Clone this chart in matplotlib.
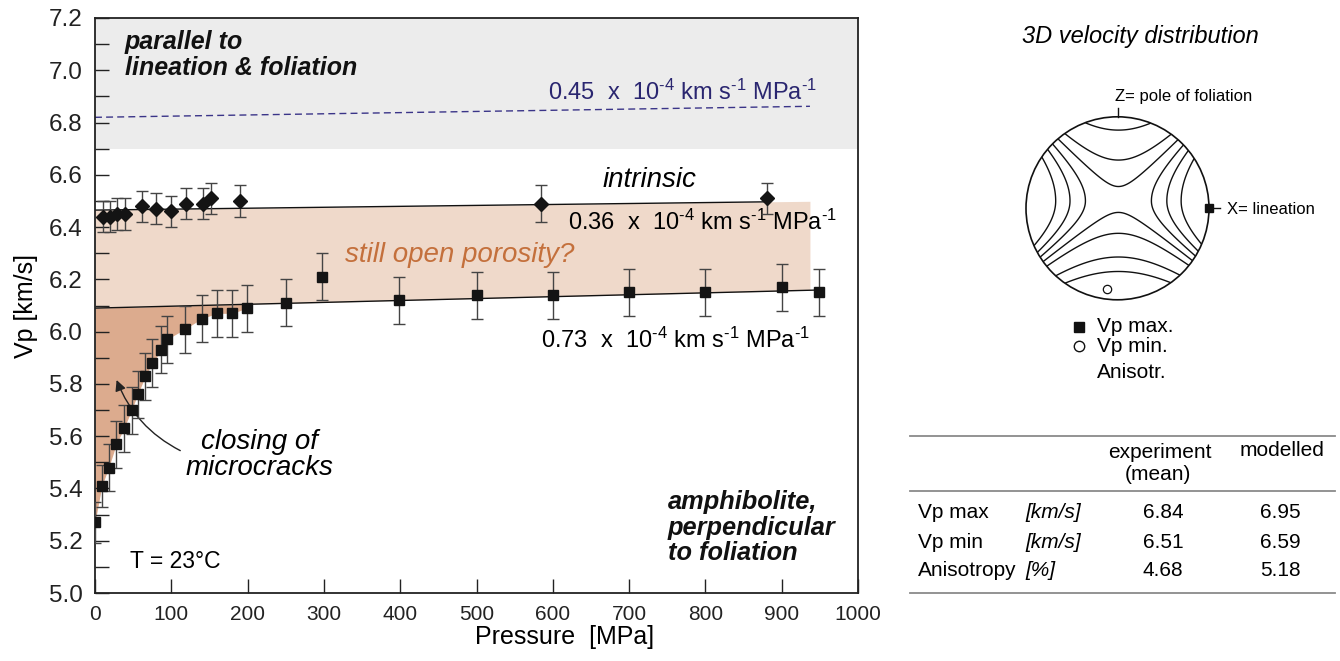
import matplotlib
matplotlib.use("Agg")
import matplotlib.pyplot as plt
import numpy as np
from matplotlib.lines import Line2D
from matplotlib.patches import Circle

plt.rcParams['font.family'] = ['Liberation Sans', 'DejaVu Sans']
plt.rcParams['mathtext.fontset'] = 'custom'
plt.rcParams['mathtext.rm'] = 'Liberation Sans'
plt.rcParams['mathtext.it'] = 'Liberation Sans:italic'

# amphibolite, perpendicular to foliation (squares)
P_perp = [0, 9, 18, 28, 38, 48, 56, 66, 75, 87, 94, 118, 140, 160, 180, 199,
          250, 298, 399, 501, 600, 700, 800, 900, 949]
V_perp = [5.27, 5.41, 5.48, 5.57, 5.63, 5.70, 5.76, 5.83, 5.88, 5.93, 5.97, 6.01,
          6.05, 6.07, 6.07, 6.09, 6.11, 6.21, 6.12, 6.14, 6.14, 6.15, 6.15, 6.17, 6.15]
E_perp = [0.08, 0.08] + [0.09] * 23

# intrinsic (diamonds)
P_intr = [10, 20, 29, 39, 61, 80, 100, 119, 141, 152, 190, 585, 881]
V_intr = [6.44, 6.44, 6.45, 6.45, 6.48, 6.47, 6.46, 6.49, 6.49, 6.51, 6.50, 6.49, 6.51]
E_intr = [0.06] * 11 + [0.07, 0.06]

# linear pressure derivatives (km/s per MPa) and intercepts (km/s)
SLOPE_PAR, V0_PAR = 0.45e-4, 6.82
SLOPE_INTR, V0_INTR = 0.36e-4, 6.465
SLOPE_PERP, V0_PERP = 0.73e-4, 6.09

# stereonet contour levels
LEVELS = [-0.95, -0.6, -0.2, -0.025, 0.13, 0.28, 0.47]

# table
ROW_NAMES = ["Vp max", "Vp min", "Anisotropy"]
ROW_UNITS = ["[km/s]", "[km/s]", "[%]"]
EXPERIMENT = ["6.84", "6.51", "4.68"]
MODELLED = ["6.95", "6.59", "5.18"]

W, H = 1340, 661


def fx(x):
    return x / W


def fy(y):
    return 1 - y / H


def deriv_label(coef):
    return coef + r'  x  10$^{\text{-4}}$ km s$^{\text{-1}}$ MPa$^{\text{-1}}$'


fig = plt.figure(figsize=(W / 100, H / 100), dpi=100)
ax = fig.add_axes([fx(95), fy(593), (858 - 95) / W, (593 - 18) / H])

ax.set_xlim(0, 1000)
ax.set_ylim(5.0, 7.2)

ax.axhspan(6.70, 7.2, color='#ececec', lw=0, zorder=0)

# dashed line, parallel to lineation & foliation
xp = np.array([0, 937])
ax.plot(xp, V0_PAR + SLOPE_PAR * xp, ls=(0, (5, 3)), color='#3a3488', lw=1, zorder=2)

# open porosity band between intrinsic and perpendicular lines
xb = np.array([0, 937])
ax.fill_between(xb, V0_PERP + SLOPE_PERP * xb, V0_INTR + SLOPE_INTR * xb,
                color='#efd9ca', lw=0, zorder=1)

# microcrack closure
P_low = np.array(P_perp[:16])
V_low = np.array(V_perp[:16])
ax.fill_between(P_low, V_low, V0_PERP + SLOPE_PERP * P_low, color='#dcab8e', lw=0, zorder=1)

xi = np.array([0, 880])
ax.plot(xi, V0_INTR + SLOPE_INTR * xi, color='#111111', lw=1, zorder=2)
xl = np.array([0, 950])
ax.plot(xl, V0_PERP + SLOPE_PERP * xl, color='#111111', lw=1, zorder=2)

ax.errorbar(P_perp, V_perp, yerr=E_perp, fmt='s', ms=7.5, mfc='#141414', mec='#141414',
            ecolor='#444444', elinewidth=1, capsize=4.5, capthick=1, zorder=4)
ax.errorbar(P_intr, V_intr, yerr=E_intr, fmt='D', ms=7.3, mfc='#141414', mec='#141414',
            ecolor='#444444', elinewidth=1, capsize=4.5, capthick=1, zorder=4)

ax.set_xticks(range(0, 1001, 100))
ax.set_yticks(np.arange(5.0, 7.21, 0.2))
ax.set_yticks(np.arange(5.1, 7.2, 0.2), minor=True)
ax.yaxis.set_major_formatter(plt.FormatStrFormatter('%.1f'))
ax.tick_params(axis='both', which='both', direction='in', length=10, width=1,
               top=False, right=False, colors='#222222')
ax.tick_params(axis='y', labelsize=17.5, pad=9)
ax.tick_params(axis='x', labelsize=15, pad=9)
for lab in ax.get_xticklabels():
    lab.set_family(['Liberation Sans Narrow', 'Liberation Sans'])
for sp in ax.spines.values():
    sp.set_linewidth(1.3)
    sp.set_color('#222222')

ax.set_xlabel('Pressure  [MPa]', fontsize=18, family=['Liberation Sans Narrow', 'Liberation Sans'])
ax.xaxis.set_label_coords(0.616, -0.055)
ax.set_ylabel('Vp [km/s]', fontsize=18)
ax.yaxis.set_label_coords(-0.075, 0.5)

ax.text(39, 7.06, 'parallel to\nlineation & foliation', fontsize=18, fontweight='bold',
        style='italic', va='center', linespacing=1.1, color='#111111')
ax.text(594, 6.917, deriv_label('0.45'), fontsize=17, color='#2a2670', va='center')
ax.text(727, 6.58, 'intrinsic', fontsize=20, style='italic', ha='center', va='center')
ax.text(620, 6.42, deriv_label('0.36'), fontsize=17, va='center')
ax.text(328, 6.293, 'still open porosity?', fontsize=20, style='italic', color='#c4703c',
        va='center')
ax.text(584, 5.968, deriv_label('0.73'), fontsize=17, va='center')
ax.text(216, 5.528, 'closing of\nmicrocracks', fontsize=20, style='italic', ha='center',
        va='center', linespacing=1.0)
ax.annotate('', xy=(27, 5.825), xytext=(115, 5.54),
            arrowprops=dict(arrowstyle='-|>', connectionstyle='arc3,rad=-0.2',
                            color='#222222', lw=1, mutation_scale=16))
ax.text(46, 5.119, 'T = 23°C', fontsize=16.5, va='center')
ax.text(751, 5.249, 'amphibolite,\nperpendicular\nto foliation', fontsize=18.3,
        fontweight='bold', style='italic', va='center', linespacing=1.08, color='#111111')

# stereonet of the 3D velocity distribution
R = 91.5
cx, cy = 1117.5, 208.3
half = 130
ax2 = fig.add_axes([fx(cx - half), fy(cy + half), 2 * half / W, 2 * half / H])
lim = half / R
ax2.set_xlim(-lim, lim)
ax2.set_ylim(-lim, lim)
ax2.axis('off')

u, v = np.meshgrid(np.linspace(-1, 1, 600), np.linspace(-1, 1, 600))
du = u - 0.01
dv = v - 0.08
field = du ** 2 - np.where(dv > 0, 1.0, 1.6) * dv ** 2
field[u ** 2 + v ** 2 > 1] = np.nan
ax2.contour(u, v, field, levels=LEVELS, colors='#111111', linewidths=1,
            linestyles='solid')
ax2.add_patch(Circle((0, 0), 1, fill=False, ec='#111111', lw=1.2))
ax2.plot([1.0], [0.0], 's', ms=6, color='#111111', clip_on=False)
ax2.plot([1.05, 1.12], [0, 0], color='#111111', lw=1, clip_on=False)
ax2.plot([0.0, 0.0], [1.0, 1.1], color='#111111', lw=1, clip_on=False)
ax2.plot([-0.11], [-0.88], 'o', ms=6, mfc='white', mec='#111111', mew=0.9)

fig.text(fx(1140), fy(36), '3D velocity distribution', fontsize=17, style='italic',
         ha='center', va='center')
fig.text(fx(1115), fy(96), 'Z= pole of foliation', fontsize=12, va='center')
fig.text(fx(1227), fy(209), 'X= lineation', fontsize=12, va='center')

# legend of the stereonet symbols
leg = fig.add_axes([fx(1069), fy(356), 20 / W, 40 / H])
leg.set_xlim(0, 20)
leg.set_ylim(356, 316)
leg.axis('off')
leg.plot([10], [327], 's', ms=7, color='#111111')
leg.plot([10], [346], 'o', ms=7.5, mfc='white', mec='#111111', mew=1)
fig.text(fx(1097), fy(327), 'Vp max.', fontsize=15, va='center')
fig.text(fx(1097), fy(346), 'Vp min.', fontsize=15, va='center')
fig.text(fx(1097), fy(373), 'Anisotr.', fontsize=15, va='center')

# comparison table
for yl in (435.7, 491, 592.7):
    fig.add_artist(Line2D([fx(910), fx(1335)], [fy(yl), fy(yl)], color='#8a8a8a', lw=1.3))
fig.text(fx(1160), fy(452), 'experiment', fontsize=15, ha='center', va='center')
fig.text(fx(1158), fy(475), '(mean)', fontsize=15, ha='center', va='center')
fig.text(fx(1282), fy(451), 'modelled', fontsize=15, ha='center', va='center')
for i, yr in enumerate((512, 542, 571)):
    fig.text(fx(918), fy(yr), ROW_NAMES[i], fontsize=15, va='center')
    fig.text(fx(1025), fy(yr), ROW_UNITS[i], fontsize=15, style='italic', va='center')
    fig.text(fx(1163), fy(yr), EXPERIMENT[i], fontsize=15, ha='center', va='center')
    fig.text(fx(1280), fy(yr), MODELLED[i], fontsize=15, ha='center', va='center')

fig.savefig('out.png', dpi=100)
